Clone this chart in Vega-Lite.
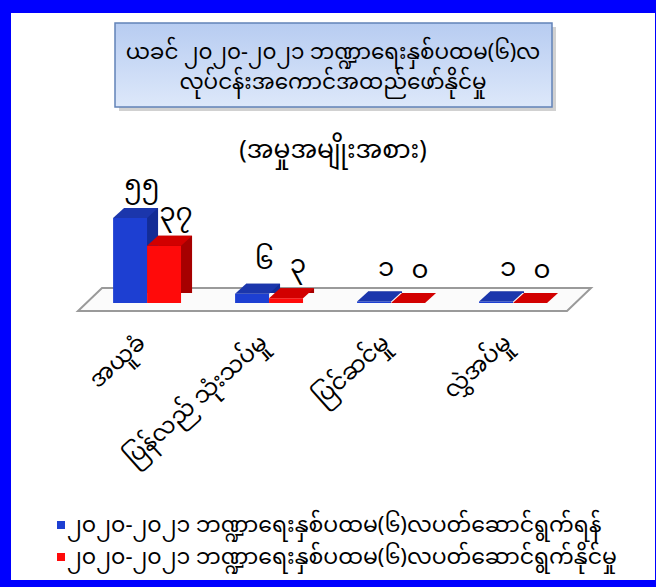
{
  "$schema": "https://vega.github.io/schema/vega-lite/v6.json",
  "width": 644,
  "height": 567,
  "autosize": "none",
  "padding": {"left": 11, "top": 13, "right": 1, "bottom": 7},
  "background": "#0000ff",
  "config": {
    "view": {"fill": "white", "stroke": null},
    "font": "Noto Sans Myanmar, Padauk, Myanmar Text, sans-serif",
    "axisX": {"title": null, "orient": "bottom", "offset": -245, "domain": false, "ticks": false, "grid": false, "labelAngle": -42, "labelAlign": "right", "labelBaseline": "middle", "labelFontSize": 23, "labelPadding": 4, "labelOffset": -5, "labelColor": "black", "labelLimit": 0, "labelOverlap": false, "zindex": 1},
    "locale": {"number": {"decimal": ".", "thousands": ",", "grouping": [3], "currency": ["", ""], "numerals": ["၀", "၁", "၂", "၃", "၄", "၅", "၆", "၇", "၈", "၉"]}}
  },
  "data": {
    "values": [
      {"category": "အယူခံ", "series": "၂၀၂၀-၂၀၂၁ ဘဏ္ဍာရေးနှစ်ပထမ(၆)လပတ်ဆောင်ရွက်ရန်", "value": 55},
      {"category": "အယူခံ", "series": "၂၀၂၀-၂၀၂၁ ဘဏ္ဍာရေးနှစ်ပထမ(၆)လပတ်ဆောင်ရွက်နိုင်မှု", "value": 37},
      {"category": "ပြန်လည် သုံးသပ်မှု", "series": "၂၀၂၀-၂၀၂၁ ဘဏ္ဍာရေးနှစ်ပထမ(၆)လပတ်ဆောင်ရွက်ရန်", "value": 6},
      {"category": "ပြန်လည် သုံးသပ်မှု", "series": "၂၀၂၀-၂၀၂၁ ဘဏ္ဍာရေးနှစ်ပထမ(၆)လပတ်ဆောင်ရွက်နိုင်မှု", "value": 3},
      {"category": "ပြင်ဆင်မှု", "series": "၂၀၂၀-၂၀၂၁ ဘဏ္ဍာရေးနှစ်ပထမ(၆)လပတ်ဆောင်ရွက်ရန်", "value": 1},
      {"category": "ပြင်ဆင်မှု", "series": "၂၀၂၀-၂၀၂၁ ဘဏ္ဍာရေးနှစ်ပထမ(၆)လပတ်ဆောင်ရွက်နိုင်မှု", "value": 0},
      {"category": "လွှဲအပ်မှု", "series": "၂၀၂၀-၂၀၂၁ ဘဏ္ဍာရေးနှစ်ပထမ(၆)လပတ်ဆောင်ရွက်ရန်", "value": 1},
      {"category": "လွှဲအပ်မှု", "series": "၂၀၂၀-၂၀၂၁ ဘဏ္ဍာရေးနှစ်ပထမ(၆)လပတ်ဆောင်ရွက်နိုင်မှု", "value": 0}
    ]
  },
  "layer": [
    {
      "data": {"values": [{}]},
      "mark": {"type": "point", "shape": "M-218,-42H219V42H-218Z", "size": 4, "filled": true, "fill": "#000000", "opacity": 0.18, "strokeWidth": 0, "xOffset": 4, "yOffset": 4},
      "encoding": {"y": {"datum": 154, "type": "quantitative", "scale": {"domain": [-179.3, 187.7], "zero": false, "nice": false}, "axis": null}}
    },
    {
      "data": {"values": [{}]},
      "mark": {
        "type": "point", "shape": "M-218,-42H219V42H-218Z", "size": 4, "filled": true, "opacity": 1,
        "fill": {"gradient": "linear", "x1": 0, "y1": 0, "x2": 0, "y2": 1, "stops": [{"offset": 0, "color": "#b7ccf1"}, {"offset": 1, "color": "#dde8fa"}]},
        "stroke": "#6283b8", "strokeWidth": 1.5
      },
      "encoding": {"y": {"datum": 154, "type": "quantitative", "scale": {"domain": [-179.3, 187.7], "zero": false, "nice": false}, "axis": null}}
    },
    {
      "data": {"values": [{}]},
      "mark": {"type": "text", "text": ["ယခင် ၂၀၂၀-၂၀၂၁ ဘဏ္ဍာရေးနှစ်ပထမ(၆)လ", "လုပ်ငန်းအကောင်အထည်ဖော်နိုင်မှု"], "fontSize": 21.5, "lineHeight": 30, "baseline": "middle", "align": "center", "color": "black"},
      "encoding": {"y": {"datum": 161.5, "type": "quantitative", "scale": {"domain": [-179.3, 187.7], "zero": false, "nice": false}, "axis": null}}
    },
    {
      "data": {"values": [{}]},
      "mark": {"type": "text", "text": "(အမှုအမျိုးအစား)", "fontSize": 25, "baseline": "middle", "align": "center", "color": "black"},
      "encoding": {"y": {"datum": 99, "type": "quantitative", "scale": {"domain": [-179.3, 187.7], "zero": false, "nice": false}, "axis": null}}
    },
    {
      "data": {"values": [{}]},
      "mark": {"type": "point", "shape": "M-231,-15L258,-15L234,8L-255,8Z", "size": 4, "filled": true, "fill": "#fbfbfb", "stroke": "#9a9a9a", "strokeWidth": 2, "opacity": 1},
      "encoding": {"y": {"datum": 0, "type": "quantitative", "scale": {"domain": [-179.3, 187.7], "zero": false, "nice": false}, "axis": null}}
    },
    {
      "transform": [{"filter": {"field": "series", "equal": "၂၀၂၀-၂၀၂၁ ဘဏ္ဍာရေးနှစ်ပထမ(၆)လပတ်ဆောင်ရွက်ရန်"}}],
      "mark": {"type": "bar", "width": 34, "xOffset": -6, "yOffset": -10, "y2Offset": -10, "color": "#132c96"},
      "encoding": {
        "x": {"field": "category", "type": "nominal", "sort": null, "scale": {"type": "band", "paddingInner": 0.443, "paddingOuter": 0.861, "align": 0.486}},
        "y": {"field": "value", "type": "quantitative", "scale": {"domain": [-179.3, 187.7], "zero": false, "nice": false}, "axis": null},
        "y2": {"datum": 0}
      }
    },
    {
      "transform": [{"filter": {"field": "series", "equal": "၂၀၂၀-၂၀၂၁ ဘဏ္ဍာရေးနှစ်ပထမ(၆)လပတ်ဆောင်ရွက်နိုင်မှု"}}],
      "mark": {"type": "bar", "width": 34, "xOffset": 28, "yOffset": -10, "y2Offset": -10, "color": "#a60000"},
      "encoding": {
        "x": {"field": "category", "type": "nominal", "sort": null, "scale": {"type": "band", "paddingInner": 0.443, "paddingOuter": 0.861, "align": 0.486}},
        "y": {"field": "value", "type": "quantitative", "scale": {"domain": [-179.3, 187.7], "zero": false, "nice": false}, "axis": null},
        "y2": {"datum": 0}
      }
    },
    {
      "mark": {"type": "bar"},
      "encoding": {
        "x": {"field": "category", "type": "nominal", "sort": null, "scale": {"type": "band", "paddingInner": 0.443, "paddingOuter": 0.861, "align": 0.486}},
        "xOffset": {"field": "series", "type": "nominal", "sort": null, "scale": {"paddingInner": 0, "paddingOuter": 0}},
        "y": {"field": "value", "type": "quantitative", "scale": {"domain": [-179.3, 187.7], "zero": false, "nice": false}, "axis": null},
        "y2": {"datum": 0},
        "color": {
          "field": "series", "type": "nominal", "sort": null,
          "scale": {"range": ["#1d3fd2", "#ff0a0a"]},
          "legend": {"title": null, "orient": "none", "legendX": 39, "legendY": 501, "symbolType": "square", "symbolSize": 64, "labelFontSize": 22, "labelLimit": 0, "rowPadding": 10, "labelOffset": -5, "labelColor": "black", "padding": 0}
        }
      }
    },
    {
      "transform": [{"filter": {"field": "series", "equal": "၂၀၂၀-၂၀၂၁ ဘဏ္ဍာရေးနှစ်ပထမ(၆)လပတ်ဆောင်ရွက်ရန်"}}],
      "mark": {"type": "point", "shape": "M-17,0L17,0L28,-10L-6,-10Z", "size": 4, "filled": true, "fill": "#1b36ac", "opacity": 1, "strokeWidth": 0, "xOffset": -17},
      "encoding": {
        "x": {"field": "category", "type": "nominal", "sort": null, "scale": {"type": "band", "paddingInner": 0.443, "paddingOuter": 0.861, "align": 0.486}},
        "y": {"field": "value", "type": "quantitative", "scale": {"domain": [-179.3, 187.7], "zero": false, "nice": false}, "axis": null}
      }
    },
    {
      "transform": [{"filter": {"field": "series", "equal": "၂၀၂၀-၂၀၂၁ ဘဏ္ဍာရေးနှစ်ပထမ(၆)လပတ်ဆောင်ရွက်နိုင်မှု"}}],
      "mark": {"type": "point", "shape": "M-17,0L17,0L28,-10L-6,-10Z", "size": 4, "filled": true, "fill": "#d20000", "opacity": 1, "strokeWidth": 0, "xOffset": 17},
      "encoding": {
        "x": {"field": "category", "type": "nominal", "sort": null, "scale": {"type": "band", "paddingInner": 0.443, "paddingOuter": 0.861, "align": 0.486}},
        "y": {"field": "value", "type": "quantitative", "scale": {"domain": [-179.3, 187.7], "zero": false, "nice": false}, "axis": null}
      }
    },
    {
      "mark": {"type": "text", "fontSize": 26, "baseline": "middle", "align": "center", "dx": 12, "dy": -33, "color": "black"},
      "encoding": {
        "x": {"field": "category", "type": "nominal", "sort": null, "scale": {"type": "band", "paddingInner": 0.443, "paddingOuter": 0.861, "align": 0.486}},
        "xOffset": {"field": "series", "type": "nominal", "sort": null, "scale": {"paddingInner": 0, "paddingOuter": 0}},
        "y": {"field": "value", "type": "quantitative", "scale": {"domain": [-179.3, 187.7], "zero": false, "nice": false}, "axis": null},
        "text": {"field": "value", "type": "quantitative", "format": "d"}
      }
    }
  ]
}
